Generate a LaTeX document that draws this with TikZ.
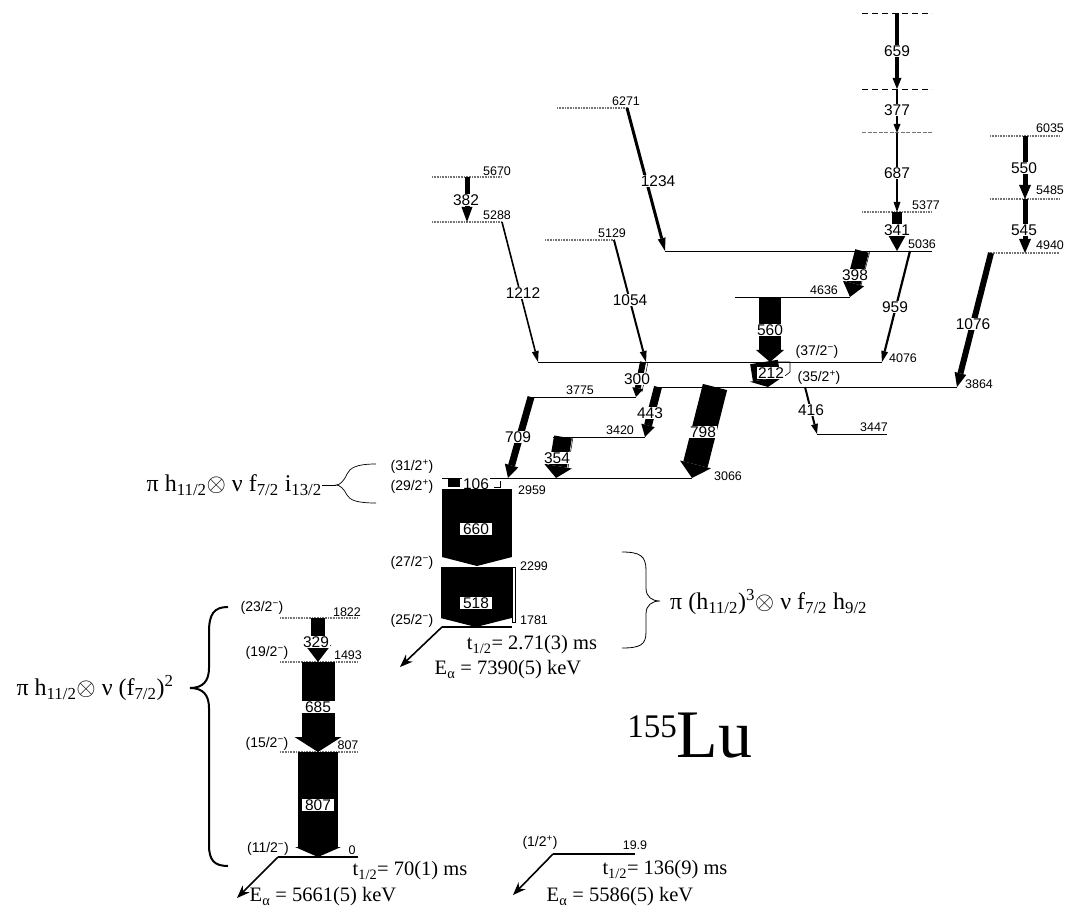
\documentclass[tikz,border=0pt]{standalone}
\usepackage{fontspec}
\setmainfont{Liberation Serif}
\setsansfont{Liberation Sans}
\usetikzlibrary{arrows.meta}
\tikzset{
 lev/.style={line width=0.8pt},
 glev/.style={draw=black!55, line width=1.2pt, dash pattern=on 1pt off 0.6pt},
 dlev/.style={line width=0.8pt, dash pattern=on 6pt off 4pt},
 dglev/.style={draw=black!55, line width=1pt, dash pattern=on 4pt off 1.5pt},
 blev/.style={line width=2.6pt},
 elab/.style={font=\sffamily\fontsize{12.5}{13}\selectfont, inner sep=0.5pt},
 slab/.style={font=\sffamily\fontsize{14}{14}\selectfont, inner sep=0.5pt},
 glab/.style={font=\sffamily\fontsize{15.5}{15.5}\selectfont, fill=white, inner sep=1pt},
 serif/.style={font=\fontsize{20.5}{20.5}\selectfont, inner sep=0pt},
 form/.style={font=\fontsize{24}{24}\selectfont, inner sep=0pt},
 alpha/.style={line width=1.6pt, -{Stealth[length=13pt,width=10pt,line width=0pt]}},
}
\newcommand{\tip}[2]{-{Triangle[length=#1pt,width=#2pt,line width=0pt]}}
\begin{document}
\begin{tikzpicture}[x=1pt,y=-1pt]
\useasboundingbox (0,0) rectangle (1069,909);

% ---------------- levels ----------------
\coordinate (d1a) at (862,13);  \coordinate (d1b) at (932,13);
\coordinate (d2a) at (862,89);  \coordinate (d2b) at (932,89);
\coordinate (d3a) at (862,133); \coordinate (d3b) at (932,133);
\draw[dlev] (d1a) -- (d1b);
\draw[dlev] (d2a) -- (d2b);
\draw[dglev] (d3a) -- (d3b);

\coordinate (L5377a) at (862,212); \coordinate (L5377b) at (932,212);
\draw[glev] (L5377a) -- (L5377b);
\node[elab] (e5377) at (926,205) {5377};

\coordinate (L5036a) at (665,251); \coordinate (L5036b) at (932,251);
\draw[lev] (L5036a) -- (L5036b);
\node[elab] (e5036) at (922,244) {5036};

\coordinate (L6271a) at (557,108); \coordinate (L6271b) at (628,108);
\draw[glev] (L6271a) -- (L6271b);
\node[elab] (e6271) at (626,101) {6271};

\coordinate (L5670a) at (432,177); \coordinate (L5670b) at (502,177);
\draw[glev] (L5670a) -- (L5670b);
\node[elab] (e5670) at (497,171) {5670};

\coordinate (L5288a) at (432,222); \coordinate (L5288b) at (502,222);
\draw[glev] (L5288a) -- (L5288b);
\node[elab] (e5288) at (497,215) {5288};

\coordinate (L5129a) at (545,240); \coordinate (L5129b) at (614,240);
\draw[glev] (L5129a) -- (L5129b);
\node[elab] (e5129) at (612,233) {5129};

\coordinate (L4636a) at (735,297); \coordinate (L4636b) at (850,297);
\draw[lev] (L4636a) -- (L4636b);
\node[elab] (e4636) at (824,290) {4636};

\coordinate (L4076a) at (538,362); \coordinate (L4076b) at (882,362);
\draw[lev] (L4076a) -- (L4076b);
\node[elab] (e4076) at (903,358) {4076};
\node[slab] (s4076) at (817,352) {(37/2\textsuperscript{−})};

\coordinate (L3864a) at (655,387); \coordinate (L3864b) at (957,387);
\draw[lev] (L3864a) -- (L3864b);
\node[elab] (e3864) at (979,384) {3864};
\node[slab] (s3864) at (819,378) {(35/2\textsuperscript{+})};

\coordinate (L3775a) at (530,397); \coordinate (L3775b) at (636,397);
\draw[lev] (L3775a) -- (L3775b);
\node[elab] (e3775) at (580,390) {3775};

\coordinate (L3420a) at (553,437); \coordinate (L3420b) at (645,437);
\draw[lev] (L3420a) -- (L3420b);
\node[elab] (e3420) at (620,430) {3420};

\coordinate (L3447a) at (817,434); \coordinate (L3447b) at (887,434);
\draw[lev] (L3447a) -- (L3447b);
\node[elab] (e3447) at (874,427) {3447};

\coordinate (L3066a) at (442,478); \coordinate (L3066b) at (692,478);
\draw[lev] (L3066a) -- (L3066b);
\node[elab] (e3066) at (728,476) {3066};
\node[elab] (e2959) at (532,490) {2959};
\node[slab] (s3066) at (412,467) {(31/2\textsuperscript{+})};
\node[slab] (s2959) at (412,487) {(29/2\textsuperscript{+})};

\node[elab] (e2299) at (534,566) {2299};
\node[slab] (s2299) at (412,563) {(27/2\textsuperscript{−})};

\coordinate (L1781a) at (442,627); \coordinate (L1781b) at (512,627);
\draw[blev] (L1781a) -- (L1781b);
\node[elab] (e1781) at (534,620) {1781};
\node[slab] (s1781) at (412,621) {(25/2\textsuperscript{−})};

\coordinate (L6035a) at (990,136); \coordinate (L6035b) at (1059,136);
\draw[glev] (L6035a) -- (L6035b);
\node[elab] (e6035) at (1050,128) {6035};
\coordinate (L5485a) at (990,199); \coordinate (L5485b) at (1059,199);
\draw[glev] (L5485a) -- (L5485b);
\node[elab] (e5485) at (1050,190) {5485};
\coordinate (L4940a) at (988,253); \coordinate (L4940b) at (1059,253);
\draw[glev] (L4940a) -- (L4940b);
\node[elab] (e4940) at (1050,245) {4940};

% left cascade
\coordinate (L1822a) at (280,618); \coordinate (L1822b) at (358,618);
\draw[glev] (L1822a) -- (L1822b);
\node[elab] (e1822) at (347,612) {1822};
\node[slab] (s1822) at (262,608) {(23/2\textsuperscript{−})};
\coordinate (L1493a) at (280,662); \coordinate (L1493b) at (358,662);
\draw[glev] (L1493a) -- (L1493b);
\node[elab] (e1493) at (348,655) {1493};
\node[slab] (s1493) at (267,653) {(19/2\textsuperscript{−})};
\coordinate (L807a) at (280,752); \coordinate (L807b) at (358,752);
\draw[glev] (L807a) -- (L807b);
\node[elab] (e807) at (348,745) {807};
\node[slab] (s807) at (267,744) {(15/2\textsuperscript{−})};
\coordinate (L0a) at (278,857); \coordinate (L0b) at (358,857);
\draw[blev] (L0a) -- (L0b);
\node[elab] (e0) at (352,850) {0};
\node[slab] (s0) at (268,849) {(11/2\textsuperscript{−})};

\coordinate (L199a) at (553,854); \coordinate (L199b) at (635,854);
\draw[blev] (L199a) -- (L199b);
\node[elab] (e199) at (635,845) {19.9};
\node[slab] (s199) at (540,843) {(1/2\textsuperscript{+})};

% ---------------- transitions ----------------
\draw[line width=4pt, \tip{11}{9}] (d1a -| 897,0) -- (d2a -| 897,0);
\node[glab] (g659) at (897,51) {659};
\draw[line width=2pt, \tip{9}{7}] (d2a -| 897,0) -- (d3a -| 897,0);
\node[glab] (g377) at (897,110) {377};
\draw[line width=2pt, \tip{10}{7}] (d3a -| 897,0) -- (L5377a -| 897,0);
\node[glab] (g687) at (897,173) {687};
\draw[line width=10pt, \tip{18}{20}] (L5377a -| 897,0) -- (L5036a -| 897,0);
\node[glab] (g341) at (897,230) {341};

\coordinate (t1234a) at (627,108); \coordinate (t1234b) at (665,251);
\draw[line width=3pt, \tip{13}{8}] (t1234a) -- (t1234b);
\node[glab] (g1234) at (658,181) {1234};

\coordinate (t382a) at (467,177); \coordinate (t382b) at (467,222);
\draw[line width=5pt, \tip{15}{11}] (t382a) -- (t382b);
\node[glab] (g382) at (466,200) {382};

\coordinate (t1212a) at (502,222); \coordinate (t1212b) at (538,362);
\draw[line width=1.6pt, \tip{11}{7}] (t1212a) -- (t1212b);
\node[glab] (g1212) at (523,293) {1212};

\coordinate (t1054a) at (614,240); \coordinate (t1054b) at (646,362);
\draw[line width=2pt, \tip{11}{7}] (t1054a) -- (t1054b);
\node[glab] (g1054) at (630,300) {1054};

\coordinate (t398a) at (862,251); \coordinate (t398b) at (850,297);
\draw[line width=14pt, \tip{14}{22}] (t398a) -- (t398b);
\coordinate (t398c) at (870,251); \coordinate (t398d) at (860,289);
\draw[line width=0.5pt] (t398c) -- (t398d);
\node[glab] (g398) at (855,275) {398};

\coordinate (t560a) at (770,297); \coordinate (t560b) at (770,362);
\draw[line width=22pt, \tip{12}{28}] (t560a) -- (t560b);
\node[glab] (g560) at (770,330) {560};

\coordinate (t959a) at (910,251); \coordinate (t959b) at (882,362);
\draw[line width=2.2pt, \tip{11}{7}] (t959a) -- (t959b);
\node[glab] (g959) at (895,307) {959};

\coordinate (t212a) at (764,362); \coordinate (t212b) at (768,387);
\draw[line width=28pt, \tip{8}{34}] (t212a) -- (t212b);
\coordinate (t212c) at (778,362); \coordinate (t212d) at (790,362);
\coordinate (t212e) at (790,372); \coordinate (t212f) at (785,376);
\draw[line width=0.6pt] (t212c) -- (t212d) -- (t212e) -- (t212f);
\node[glab] (g212) at (771,373) {212};

\coordinate (t300a) at (643,362); \coordinate (t300b) at (636,397);
\draw[line width=6pt, \tip{9}{11}] (t300a) -- (t300b);
\coordinate (t300c) at (648,362); \coordinate (t300d) at (642,392);
\draw[line width=0.5pt] (t300c) -- (t300d);
\node[glab] (g300) at (637,379) {300};

\coordinate (t416a) at (805,387); \coordinate (t416b) at (817,434);
\draw[line width=2pt, \tip{10}{7}] (t416a) -- (t416b);
\node[glab] (g416) at (811,410) {416};

\coordinate (t443a) at (658,387); \coordinate (t443b) at (645,437);
\draw[line width=8pt, \tip{12}{14}] (t443a) -- (t443b);
\node[glab] (g443) at (650,413) {443};

\coordinate (t798a) at (715,387); \coordinate (t798b) at (692,478);
\draw[line width=25pt, \tip{14}{32}] (t798a) -- (t798b);
\node[glab] (g798) at (703,432) {798};

\coordinate (t709a) at (531,397); \coordinate (t709b) at (508,478);
\draw[line width=7pt, \tip{13}{14}] (t709a) -- (t709b);
\node[glab] (g709) at (518,437) {709};

\coordinate (t354a) at (563,437); \coordinate (t354b) at (556,478);
\draw[line width=18pt, \tip{12}{28}] (t354a) -- (t354b);
\coordinate (t354c) at (573,437); \coordinate (t354d) at (568,468);
\draw[line width=0.5pt] (t354c) -- (t354d);
\node[glab] (g354) at (557,458) {354};

\coordinate (t1076a) at (991,253); \coordinate (t1076b) at (957,387);
\draw[line width=6pt, \tip{14}{12}] (t1076a) -- (t1076b);
\node[glab] (g1076) at (973,324) {1076};

\coordinate (t550a) at (1025,136); \coordinate (t550b) at (1025,199);
\draw[line width=5pt, \tip{14}{12}] (t550a) -- (t550b);
\node[glab] (g550) at (1024,168) {550};
\coordinate (t545b) at (1025,253);
\draw[line width=5pt, \tip{14}{12}] (t550b) -- (t545b);
\node[glab] (g545) at (1024,230) {545};

% 106
\coordinate (t106a) at (448,478); \coordinate (t106b) at (460,487);
\fill (t106a) rectangle (t106b);
\coordinate (t106c) at (494,487); \coordinate (t106d) at (500,487); \coordinate (t106e) at (500,481);
\draw[line width=0.6pt] (t106c) -- (t106d) -- (t106e);
\node[glab] (g106) at (476,484) {106};

% 660, 518
\coordinate (t660a) at (477,489); \coordinate (t660b) at (477,566);
\draw[line width=70pt, \tip{9}{70}] (t660a) -- (t660b);
\node[glab, inner xsep=3pt] (g660) at (476,529) {660};
\coordinate (t518a) at (476,567); \coordinate (t518b) at (476,627);
\draw[line width=71pt, \tip{9}{71}] (t518a) -- (t518b);
\coordinate (t518c) at (512,567); \coordinate (t518d) at (515,622);
\draw[line width=0.6pt] (t518c) rectangle (t518d);
\node[glab, inner xsep=3pt] (g518) at (476,603) {518};

% left cascade transitions
\coordinate (t329a) at (318,618); \coordinate (t329b) at (318,662);
\draw[line width=14pt, \tip{17}{26}] (t329a) -- (t329b);
\node[glab] (g329) at (316,642) {329};
\coordinate (t685b) at (318,752);
\draw[line width=33pt, \tip{15}{47}] (t329b) -- (t685b);
\node[glab, minimum width=33pt] (g685) at (318,707) {685};
\coordinate (t807b) at (318,857);
\draw[line width=40pt, \tip{10}{46}] (t685b) -- (t807b);
\node[glab, inner xsep=3pt] (g807) at (318,805) {807};

% ---------------- alpha decays ----------------
\coordinate (a1b) at (400,667);
\draw[alpha] (L1781a) -- (a1b);
\node[serif] (h1) at (532,645) {t\textsubscript{1/2}= 2.71(3) ms};
\node[serif] (ea1) at (508,670) {E\textsubscript{α} = 7390(5) keV};

\coordinate (a2b) at (237,898);
\draw[alpha] (L0a) -- (a2b);
\node[serif] (h2) at (410,871) {t\textsubscript{1/2}= 70(1) ms};
\node[serif] (ea2) at (323,897) {E\textsubscript{α} = 5661(5) keV};

\coordinate (a3b) at (513,895);
\draw[alpha] (L199a) -- (a3b);
\node[serif] (h3) at (665,870) {t\textsubscript{1/2}= 136(9) ms};
\node[serif] (ea3) at (620,897) {E\textsubscript{α} = 5586(5) keV};

% ---------------- configurations ----------------
\node[form, anchor=east] (f1) at (322,485) {π h\textsubscript{11/2}$\otimes$ ν f\textsubscript{7/2} i\textsubscript{13/2}};
\draw[line width=0.7pt] (f1.east) -- (336,485);
\draw[line width=0.7pt] (376,464) .. controls (356,464) and (350,468) .. (347,474)
  .. controls (344,481) and (340,485) .. (336,485)
  .. controls (340,485) and (344,489) .. (347,495)
  .. controls (350,500) and (356,503) .. (376,503);

\node[form, anchor=west] (f2) at (670,602) {π (h\textsubscript{11/2})\textsuperscript{3}$\otimes$ ν f\textsubscript{7/2} h\textsubscript{9/2}};
\draw[line width=0.8pt] (622,552) .. controls (640,552) and (646,556) .. (646,570)
  -- (646,588) .. controls (646,597) and (652,601) .. (660,601)
  .. controls (652,601) and (646,605) .. (646,614)
  -- (646,632) .. controls (646,645) and (640,648) .. (622,648);

\node[form] (f3) at (95,688) {π h\textsubscript{11/2}$\otimes$ ν (f\textsubscript{7/2})\textsuperscript{2}};
\draw[line width=2pt] (228,607) .. controls (214,607) and (209,614) .. (209,632)
  -- (209,668) .. controls (209,681) and (203,688) .. (190,688)
  .. controls (203,688) and (209,695) .. (209,708)
  -- (209,845) .. controls (209,860) and (214,866) .. (228,866);

% nucleus
\node[anchor=base, inner sep=0pt] (nuc) at (690,757) {\raisebox{20pt}{\fontsize{33}{33}\selectfont 155}\fontsize{68}{68}\selectfont Lu};
\end{tikzpicture}
\end{document}
